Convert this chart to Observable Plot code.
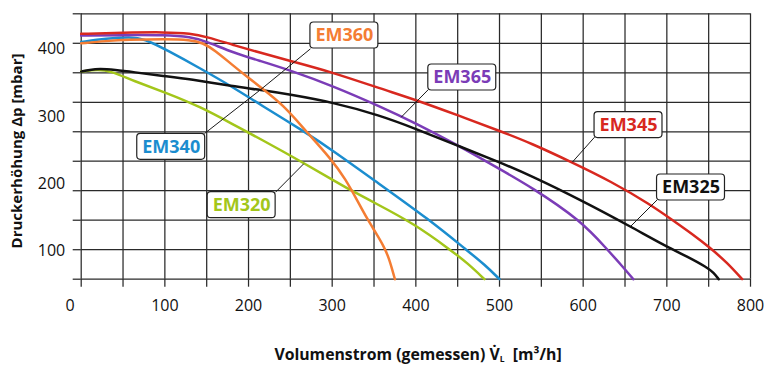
<!DOCTYPE html>
<html><head><meta charset="utf-8">
<script src="https://cdn.jsdelivr.net/npm/d3@7"></script>
<script src="https://cdn.jsdelivr.net/npm/@observablehq/plot@0.6"></script>
<style>body{margin:0;background:#fff} svg{display:block}</style>
</head><body><div id="chart"></div>
<script>
// ---- data ----
const seriesNames = ["EM320", "EM340", "EM365", "EM345", "EM325", "EM360"];
const seriesColors = ["#a3c61a", "#1b8dcf", "#7b3cb7", "#d8281f", "#111111", "#f47d33"];

const em320 = [[0,352],[20,356],[35,353],[63,336],[100,317],[143,292],[182,262],[214,238],[266,197],[300,169],[322,151],[350,130],[398,94],[441,50],[462,27],[482,0]];
const em340 = [[0,402],[30,408],[59,411],[75,408],[103,388],[143,357],[182,325],[214,296],[266,251],[300,219],[350,168],[417,100],[461,49],[482,25],[500,0]];
const em365 = [[0,413],[50,414],[100,414],[131,411],[150,403],[182,384],[214,370],[250,354],[300,328],[357,293],[402,263],[449,228],[501,186],[537,157],[597,100],[629,50],[645,25],[660,0]];
const em345 = [[0,416],[50,418],[100,419],[131,417],[150,411],[182,397],[214,384],[250,370],[300,351],[358,323],[402,303],[450,278],[501,251],[537,231],[587,198],[633,166],[680,127],[708,99],[730,77],[752,53],[772,28],[790,0]];
const em325 = [[0,352],[10,355],[22,357],[40,355],[63,351],[95,345],[131,339],[182,327],[214,321],[250,313],[300,300],[357,278],[400,255],[449,227],[499,199],[537,176],[599,133],[657,89],[700,55],[725,38],[748,20],[756,11],[762,0]];
const em360 = [[0,400],[30,404],[55,406],[100,407],[131,406],[145,401],[160,388],[180,364],[202,339],[214,326],[242,295],[268,252],[298,205],[316,170],[332,128],[342,102],[352,79],[362,55],[368,35],[372,15],[375,0]];
const seriesPoints = [em320, em340, em365, em345, em325, em360];

// curve labels (box centre) and leader lines
const labelNames = ["EM360", "EM365", "EM345", "EM325", "EM340", "EM320"];
const labelV = [314.6, 455.5, 654.2, 728.9, 107.6, 191.8];
const labelP = [413.2, 342, 261.4, 155.5, 224.5, 125.5];
const labelColors = ["#f47d33", "#7b3cb7", "#d8281f", "#111111", "#1b8dcf", "#a3c61a"];
const leaderV1 = [274, 415, 613.6, 688.5, 147.4, 232.3];
const leaderP1 = [390.6, 321.6, 240.8, 134.6, 247, 147.5];
const leaderV2 = [215, 382.5, 587, 656.6, 215, 266];
const leaderP2 = [322, 274.7, 198.4, 89.4, 322, 195.7];

// axes
const xGridValues = [0,50,100,150,200,250,300,350,400,450,500,550,600,650,700,750,800];
const yGridValues = [0,50,100,150,200,250,300,350,400,450];
const xTickLabels = [100,200,300,400,500,600,700,800];
const yTickLabels = [400,300,200,100];
const yLabelNudge = [6, 15, 23, 31];

// ---- build ----
const rows = seriesPoints.flatMap((pts, i) => pts.map(([v, p]) => ({name: seriesNames[i], v, p})));
const labels = labelNames.map((n, i) => ({name: n, v: labelV[i], p: labelP[i], color: labelColors[i]}));
const leaders = labelNames.map((n, i) => ({x1: leaderV1[i], y1: leaderP1[i], x2: leaderV2[i], y2: leaderP2[i]}));

const gridStyle = {stroke: "#2a2a2a", strokeOpacity: 1, strokeWidth: 1.25};
const FS = 18;

const chart = Plot.plot({
  width: 764, height: 367,
  marginLeft: 80.7, marginRight: 14, marginTop: 13.3, marginBottom: 88.3,
  style: {fontFamily: "'Open Sans', sans-serif", background: "#fff", color: "#111"},
  x: {domain: [0, 800]},
  y: {domain: [0, 450]},
  color: {domain: seriesNames, range: seriesColors},
  marks: [
    Plot.gridX(xGridValues, gridStyle),
    Plot.gridY(yGridValues, gridStyle),
    Plot.axisX(xGridValues, {tickSize: 8, tickFormat: () => "", label: null, ...gridStyle}),
    Plot.axisY(yGridValues, {tickSize: 8, tickFormat: () => "", label: null, ...gridStyle}),
    Plot.axisX(xTickLabels, {tickSize: 0, tickPadding: 20, fontSize: 16, label: null}),
    Plot.axisX([0], {tickSize: 0, tickPadding: 20, fontSize: 16, dx: -11, label: null}),
    ...yTickLabels.map((t, i) => Plot.axisY([t], {tickSize: 0, tickPadding: 16, fontSize: 16, dy: yLabelNudge[i], label: null})),
    Plot.line(rows, {x: "v", y: "p", z: "name", stroke: "name", strokeWidth: 2.5, curve: "basis"}),
    Plot.link(leaders, {x1: "x1", y1: "y1", x2: "x2", y2: "y2", stroke: "#1a1a1a", strokeWidth: 1}),
    Plot.text(labels, {x: "v", y: "p", text: "name", fill: "color", fontSize: FS, fontWeight: "bold"})
  ]
});

document.getElementById("chart").append(chart);

// boxes around curve labels
const sx = chart.scale("x"), sy = chart.scale("y");
const labelTexts = Array.from(chart.querySelectorAll("text")).filter(t => labelNames.includes(t.textContent));
const labelGroup = labelTexts[0].parentNode;
const boxes = document.createElementNS("http://www.w3.org/2000/svg", "g");
labelGroup.parentNode.insertBefore(boxes, labelGroup);
labelTexts.forEach(el => {
  const d = labels.find(l => l.name === el.textContent);
  const w = el.getBBox().width;
  const cx = sx.apply(d.v), cy = sy.apply(d.p);
  d3.select(boxes).append("rect")
    .attr("x", cx - w / 2 - 5).attr("y", cy - 13)
    .attr("width", w + 10).attr("height", 26)
    .attr("rx", 3.5).attr("fill", "#fff").attr("stroke", "#222").attr("stroke-width", 1.2);
});

// axis titles
const svg = d3.select(chart);
const xt = svg.append("text")
  .attr("x", 418).attr("y", 360).attr("text-anchor", "middle")
  .attr("font-size", 15.8).attr("font-weight", "bold").attr("fill", "#111");
xt.append("tspan").text("Volumenstrom (gemessen) V\u0307");
xt.append("tspan").attr("font-size", 8.5).attr("dy", 2).text("L");
xt.append("tspan").attr("dy", -2).text("\u00a0 [m³/h]");

svg.append("text")
  .attr("transform", "translate(22,151) rotate(-90)").attr("text-anchor", "middle")
  .attr("font-size", 15).attr("font-weight", "bold").attr("fill", "#111")
  .text("Druckerhöhung Δp [mbar]");
</script>
</body></html>
